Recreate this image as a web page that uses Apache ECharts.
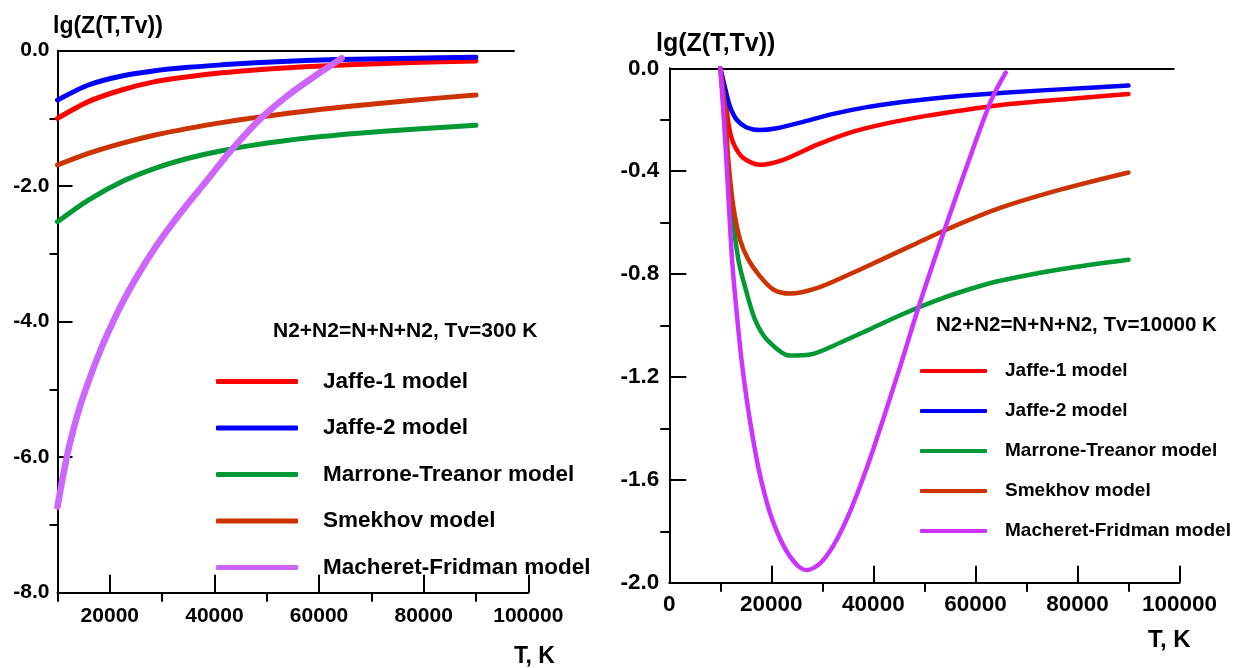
<!DOCTYPE html>
<html>
<head>
<meta charset="utf-8">
<script src="https://cdn.jsdelivr.net/npm/echarts@6/dist/echarts.min.js"></script>
<style>
  html, body { margin: 0; padding: 0; background: #fff; }
  #chart { width: 1239px; height: 668px; }
</style>
</head>
<body>
<div id="chart"></div>
<script>
// ---------- data ----------
const modelNames = ['Jaffe-1 model', 'Jaffe-2 model', 'Marrone-Treanor model', 'Smekhov model', 'Macheret-Fridman model'];

// Left plot: Tv = 300 K  ([T, lg Z])
const left_jaffe1 = [[10000,-1.0],[15900,-0.752],[22270,-0.58],[28640,-0.457],[35010,-0.384],[41390,-0.326],[47760,-0.284],[54130,-0.252],[60510,-0.226],[66880,-0.203],[78000,-0.175],[90000,-0.152]];
const left_jaffe2 = [[10000,-0.73],[15900,-0.506],[22270,-0.373],[28640,-0.295],[35010,-0.245],[41390,-0.209],[47760,-0.179],[54130,-0.156],[60510,-0.138],[66880,-0.125],[78000,-0.11],[90000,-0.097]];
const left_marrone = [[10000,-2.524],[15900,-2.204],[22270,-1.933],[28640,-1.736],[35010,-1.588],[41390,-1.476],[47760,-1.39],[54130,-1.322],[60510,-1.268],[66880,-1.222],[78000,-1.158],[90000,-1.101]];
const left_smekhov = [[10000,-1.687],[15900,-1.515],[22270,-1.367],[28640,-1.244],[35010,-1.146],[41390,-1.062],[47760,-0.988],[54130,-0.924],[60510,-0.865],[66880,-0.813],[78000,-0.73],[90000,-0.654]];
const left_macheret = [[10000,-6.73],[11000,-6.3],[12200,-5.85],[13980,-5.33],[15890,-4.89],[17800,-4.5],[19080,-4.26],[22270,-3.74],[25450,-3.3],[28640,-2.91],[31830,-2.565],[35010,-2.25],[38200,-1.95],[42540,-1.53],[45850,-1.24],[49350,-0.964],[54130,-0.654],[59230,-0.373],[64330,-0.112]];

// Right plot: Tv = 10000 K
const right_jaffe1 = [[10000,0],[10900,-0.09],[11570,-0.213],[12550,-0.291],[14510,-0.349],[17780,-0.375],[22350,-0.356],[28900,-0.298],[35430,-0.25],[41960,-0.217],[50370,-0.185],[58320,-0.161],[66320,-0.14],[78300,-0.119],[90000,-0.10]];
const right_jaffe2 = [[10000,0],[10920,-0.075],[11900,-0.149],[13210,-0.2],[15170,-0.23],[17780,-0.24],[21050,-0.233],[25630,-0.211],[32160,-0.177],[38700,-0.151],[45240,-0.132],[50370,-0.12],[58000,-0.106],[66320,-0.094],[78300,-0.08],[90000,-0.067]];
const right_marrone = [[10000,0],[10900,-0.2],[11900,-0.485],[13530,-0.744],[15170,-0.873],[16800,-0.977],[19100,-1.054],[23670,-1.117],[27590,-1.113],[33470,-1.067],[38700,-1.02],[45240,-0.96],[52000,-0.905],[58310,-0.862],[64840,-0.826],[77000,-0.78],[90000,-0.744]];
const right_smekhov = [[10000,0],[10900,-0.15],[11570,-0.356],[12550,-0.537],[13860,-0.666],[15490,-0.744],[17780,-0.809],[20390,-0.86],[23670,-0.876],[28900,-0.855],[35430,-0.80],[42000,-0.74],[48510,-0.68],[55040,-0.621],[64840,-0.543],[77000,-0.47],[90000,-0.405]];
const right_macheret = [[10000,0],[10700,-0.2],[11450,-0.45],[12300,-0.744],[13210,-0.95],[14190,-1.14],[15490,-1.33],[17130,-1.52],[18110,-1.61],[19750,-1.73],[22350,-1.855],[24970,-1.93],[26930,-1.951],[29550,-1.925],[32160,-1.856],[34780,-1.753],[37390,-1.625],[40000,-1.48],[45240,-1.16],[48830,-0.93],[53730,-0.64],[58500,-0.37],[63120,-0.123],[65930,-0.017]];

// Axis ticks
const leftXMajor = [20000, 40000, 60000, 80000, 100000];
const leftXMinor = [10000, 30000, 50000, 70000, 90000];
const leftYMinor = [-7, -5, -3, -1];
const rightXMinor = [10000, 30000, 50000, 70000, 90000];
const rightYMinor = [-1.8, -1.4, -1.0, -0.6, -0.2];
const leftTopLineEnd = 97400;   // T where the top frame line ends (left)
const rightTopLineEnd = 99000;  // (right)

// ---------- styling ----------
const FONT = '"Liberation Sans", Arial, sans-serif';
const leftColors  = ['#ff0000', '#0000ff', '#009933', '#cc3300', '#cc66ff'];
const rightColors = ['#ff0000', '#0000ff', '#009933', '#cc3300', '#cc33ff'];
const leftData  = [left_jaffe1, left_jaffe2, left_marrone, left_smekhov, left_macheret];
const rightData = [right_jaffe1, right_jaffe2, right_marrone, right_smekhov, right_macheret];

const axisLineStyle = { color: '#000', width: 2 };

function majorX(grid, min, max, opts) {
  return Object.assign({
    type: 'value', gridIndex: grid, min: min, max: max, position: 'bottom',
    axisLine: { show: true, onZero: false, lineStyle: axisLineStyle },
    splitLine: { show: false },
  }, opts);
}

const option = {
  animation: false,
  backgroundColor: '#fff',
  grid: [
    { left: 57.5, top: 50.7, width: 470.8, height: 542 },
    { left: 669.3, top: 68.3, width: 510.2, height: 514.4 }
  ],
  title: [
    { text: 'lg(Z(T,Tv))', left: 53, top: 15, padding: 0, textStyle: { fontFamily: FONT, fontSize: 23, fontWeight: 'bold', color: '#000' } },
    { text: 'lg(Z(T,Tv))', left: 656, top: 32, padding: 0, textStyle: { fontFamily: FONT, fontSize: 25, fontWeight: 'bold', color: '#000' } },
    { text: 'T, K', left: 514, top: 645, padding: 0, textStyle: { fontFamily: FONT, fontSize: 23, fontWeight: 'bold', color: '#000' } },
    { text: 'T, K', left: 1148, top: 628, padding: 0, textStyle: { fontFamily: FONT, fontSize: 24, fontWeight: 'bold', color: '#000' } },
    { text: 'N2+N2=N+N+N2, Tv=300 K', left: 273, top: 321, padding: 0, textStyle: { fontFamily: FONT, fontSize: 21, fontWeight: 'bold', color: '#000' } },
    { text: 'N2+N2=N+N+N2, Tv=10000 K', left: 936, top: 315, padding: 0, textStyle: { fontFamily: FONT, fontSize: 20.5, fontWeight: 'bold', color: '#000' } }
  ],
  legend: [
    {
      orient: 'vertical', left: 216, top: 370, padding: 0,
      itemWidth: 82, itemHeight: 5, itemGap: 23.5, icon: 'roundRect',
      selectedMode: false,
      textStyle: { fontFamily: FONT, fontSize: 22.5, fontWeight: 'bold', color: '#000', padding: [0, 0, 0, 20] },
      data: modelNames.map((n, i) => ({ name: n, itemStyle: { color: leftColors[i] } }))
    },
    {
      orient: 'vertical', left: 920, top: 361.5, padding: 0,
      itemWidth: 67, itemHeight: 4, itemGap: 21, icon: 'roundRect',
      selectedMode: false,
      textStyle: { fontFamily: FONT, fontSize: 19, fontWeight: 'bold', color: '#000', padding: [0, 0, 0, 13] },
      data: modelNames.map((n, i) => ({ name: n, itemStyle: { color: rightColors[i] } }))
    }
  ],
  xAxis: [
    majorX(0, 10000, 100000, {
      axisTick: { show: true, inside: true, length: 18, lineStyle: axisLineStyle, customValues: leftXMajor },
      axisLabel: { show: true, customValues: leftXMajor, formatter: v => String(v), margin: 13, fontFamily: FONT, fontSize: 21, fontWeight: 'bold', color: '#000' }
    }),
    majorX(0, 10000, 100000, {
      axisLine: { show: false, onZero: false },
      axisTick: { show: true, inside: false, length: 9, lineStyle: axisLineStyle, customValues: leftXMinor },
      axisLabel: { show: false }
    }),
    majorX(1, 0, 100000, {
      interval: 20000,
      axisTick: { show: true, inside: true, length: 17, lineStyle: axisLineStyle },
      axisLabel: { show: true, formatter: v => String(v), margin: 11, fontFamily: FONT, fontSize: 22.5, fontWeight: 'bold', color: '#000' }
    }),
    majorX(1, 0, 100000, {
      axisLine: { show: false, onZero: false },
      axisTick: { show: true, inside: false, length: 9, lineStyle: axisLineStyle, customValues: rightXMinor },
      axisLabel: { show: false }
    })
  ],
  yAxis: [
    {
      type: 'value', gridIndex: 0, min: -8, max: 0, interval: 2, position: 'left',
      axisLine: { show: true, onZero: false, lineStyle: axisLineStyle },
      axisTick: { show: true, inside: true, length: 15, lineStyle: axisLineStyle },
      axisLabel: { margin: 8, formatter: v => v.toFixed(1), fontFamily: FONT, fontSize: 21, fontWeight: 'bold', color: '#000' },
      splitLine: { show: false }
    },
    {
      type: 'value', gridIndex: 0, min: -8, max: 0, position: 'left',
      axisLine: { show: false, onZero: false },
      axisTick: { show: true, inside: false, length: 8, lineStyle: axisLineStyle, customValues: leftYMinor },
      axisLabel: { show: false },
      splitLine: { show: false }
    },
    {
      type: 'value', gridIndex: 1, min: -2, max: 0, interval: 0.4, position: 'left',
      axisLine: { show: true, onZero: false, lineStyle: axisLineStyle },
      axisTick: { show: true, inside: true, length: 17, lineStyle: axisLineStyle },
      axisLabel: { margin: 10, formatter: v => v.toFixed(1), fontFamily: FONT, fontSize: 22.5, fontWeight: 'bold', color: '#000' },
      splitLine: { show: false }
    },
    {
      type: 'value', gridIndex: 1, min: -2, max: 0, position: 'left',
      axisLine: { show: false, onZero: false },
      axisTick: { show: true, inside: false, length: 9, lineStyle: axisLineStyle, customValues: rightYMinor },
      axisLabel: { show: false },
      splitLine: { show: false }
    }
  ],
  series: []
};

modelNames.forEach((name, i) => {
  option.series.push({
    name: name, type: 'line', xAxisIndex: 0, yAxisIndex: 0,
    data: leftData[i], showSymbol: false, symbol: 'none', smooth: 0.3,
    color: leftColors[i],
    lineStyle: { color: leftColors[i], width: i === 4 ? 6.5 : 5, cap: 'round' },
    z: 3
  });
});
modelNames.forEach((name, i) => {
  option.series.push({
    name: name, type: 'line', xAxisIndex: 2, yAxisIndex: 2,
    data: rightData[i], showSymbol: false, symbol: 'none', smooth: 0.3,
    color: rightColors[i],
    lineStyle: { color: rightColors[i], width: 4.5, cap: 'round' },
    z: 3
  });
});

// top frame lines at lg Z = 0
option.series[0].markLine = {
  silent: true, symbol: 'none', label: { show: false }, z: 1,
  lineStyle: { color: '#000', width: 2, type: 'solid' },
  data: [[{ coord: [10000, 0] }, { coord: [leftTopLineEnd, 0] }]]
};
option.series[5].markLine = {
  silent: true, symbol: 'none', label: { show: false }, z: 1,
  lineStyle: { color: '#000', width: 2, type: 'solid' },
  data: [[{ coord: [0, 0] }, { coord: [rightTopLineEnd, 0] }]]
};

const chart = echarts.init(document.getElementById('chart'), null, { renderer: 'canvas' });
chart.setOption(option);
</script>
</body>
</html>
